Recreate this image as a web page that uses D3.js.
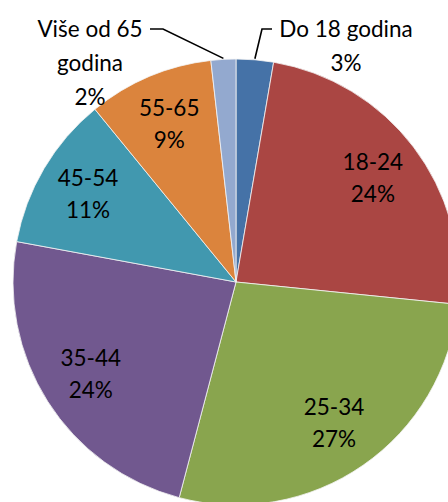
<!DOCTYPE html>
<html>
<head>
<meta charset="utf-8">
<script src="https://cdn.jsdelivr.net/npm/d3@7"></script>
<style>
  body { margin: 0; background: #fff; }
  svg { display: block; }
  .lbl { font-family: Lato, "Open Sans", sans-serif; font-size: 22.5px; fill: #000; }
</style>
</head>
<body>
<svg width="448" height="502"></svg>
<script>
// age groups, clockwise from 12 o'clock
categories = ["Do 18 godina", "18-24", "25-34", "35-44", "45-54", "55-65", "Više od 65 godina"];
values = [2.7, 23.9, 27.5, 23.8, 11.2, 9.1, 1.8];
percentLabels = ["3%", "24%", "27%", "24%", "11%", "9%", "2%"];
colors = ["#4572A7", "#AA4643", "#89A54E", "#71588F", "#4198AF", "#DB843D", "#93A9CF"];

const width = 448;
const height = 502;
const cx = 236, cy = 282, radius = 223;

const svg = d3.select("svg");
const g = svg.append("g").attr("transform", "translate(" + cx + "," + cy + ")");

const data = categories.map(function(c, i){
    return { name: c, value: values[i], pct: percentLabels[i], color: colors[i] };
});

const pie = d3.pie().sort(null).value(function(d){ return d.value; });
const arcs = pie(data);

const arc = d3.arc().innerRadius(0).outerRadius(radius);
const labelArc = d3.arc().innerRadius(172).outerRadius(172);

g.selectAll("path")
    .data(arcs)
    .enter()
    .append("path")
    .attr("d", arc)
    .attr("fill", function(d){ return d.data.color; })
    .attr("stroke", "#f4f4f4")
    .attr("stroke-width", 0.8);

// inside labels (the big slices)
const inside = arcs.filter(function(d){ return d.data.value > 5; });
const lineH = 32;
inside.forEach(function(d){
    const p = labelArc.centroid(d);
    const t = g.append("text")
        .attr("class", "lbl")
        .attr("text-anchor", "middle")
        .attr("x", p[0])
        .attr("y", p[1] - lineH / 2 + 8);
    t.append("tspan").attr("x", p[0]).text(d.data.name);
    t.append("tspan").attr("x", p[0]).attr("dy", lineH).text(d.data.pct);
});

// outside labels with leader lines (the two small slices at the top)
const edgeArc = d3.arc().innerRadius(radius).outerRadius(radius);
const outside = [
    { d: arcs[0], lines: ["Do 18 godina", arcs[0].data.pct], tx: 110, ty: -253, elbow: [26, -253], tail: 10 },
    { d: arcs[6], lines: ["Više od 65", "godina", arcs[6].data.pct], tx: -146, ty: -253, elbow: [-73, -253], tail: -13 }
];

outside.forEach(function(o){
    const p = edgeArc.centroid(o.d);
    g.append("polyline")
        .attr("points", [[p[0], p[1] - 1], o.elbow, [o.elbow[0] + o.tail, o.elbow[1]]].map(function(q){ return q.join(","); }).join(" "))
        .attr("fill", "none")
        .attr("stroke", "#000")
        .attr("stroke-width", 1.6);
    const t = g.append("text")
        .attr("class", "lbl")
        .attr("text-anchor", "middle")
        .attr("y", o.ty + 8);
    o.lines.forEach(function(line, i){
        t.append("tspan").attr("x", o.tx).attr("dy", i == 0 ? 0 : 34).text(line);
    });
});
</script>
</body>
</html>
